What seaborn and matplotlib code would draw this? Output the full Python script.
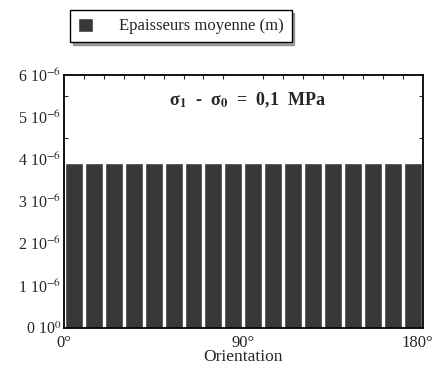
import numpy as np
import pandas as pd
import matplotlib
matplotlib.use("Agg")
import matplotlib.pyplot as plt
import seaborn as sns

# data: mean thickness per 10 degree orientation class
orientations = [5, 15, 25, 35, 45, 55, 65, 75, 85, 95, 105, 115, 125, 135, 145, 155, 165, 175]
thickness = [3.9e-6] * 18
ytick_values = [0, 1e-6, 2e-6, 3e-6, 4e-6, 5e-6, 6e-6]
ytick_labels = ["0 10$^{0}$", "1 10$^{-6}$", "2 10$^{-6}$", "3 10$^{-6}$",
                "4 10$^{-6}$", "5 10$^{-6}$", "6 10$^{-6}$"]
xtick_labels = ["0°", "90°", "180°"]

sns.set_style("white")
plt.rcParams['font.family'] = ['Liberation Serif', 'DejaVu Serif']
plt.rcParams['mathtext.fontset'] = 'stix'

df = pd.DataFrame({"Orientation": orientations, "Epaisseur": thickness})

fig = plt.figure(figsize=(4.37, 3.73), dpi=100)
ax = fig.add_axes([0.146, 0.121, 0.822, 0.678])

sns.barplot(data=df, x="Orientation", y="Epaisseur", color="#383838",
            width=0.9, saturation=1, ax=ax, label="Epaisseurs moyenne (m)")

ax.set_xlim(-0.5, 17.5)
ax.set_ylim(0, 6e-6)
# 180° label pulled slightly inward so it stays on the canvas (ticks are hidden)
ax.set_xticks([-0.5, 8.5, 17.2])
ax.set_xticklabels(xtick_labels, fontsize=12)
ax.set_yticks(ytick_values)
ax.set_yticklabels(ytick_labels, fontsize=11.5)
ax.set_xlabel("Orientation", fontsize=12.5, labelpad=-1)
ax.set_ylabel("")

for s in ax.spines.values():
    s.set_color("black")
    s.set_linewidth(1.3)

ax.set_xticks(np.arange(0.5, 17, 1), minor=True)
ax.set_yticks(np.arange(0, 6e-6, 0.5e-6), minor=True)
ax.tick_params(which="minor", direction="in", length=3, top=True, right=True,
               bottom=False, left=True, width=0.8)
ax.tick_params(axis="y", which="major", length=0, pad=2)
ax.tick_params(axis="x", which="major", length=0, pad=5)

ax.text(0.51, 0.90, "σ$_\\mathbf{1}$  -  σ$_\\mathbf{0}$  =  0,1  MPa", transform=ax.transAxes,
        ha="center", va="center", fontsize=13, fontweight="bold")

if ax.get_legend():
    ax.get_legend().remove()
handles, labels = ax.get_legend_handles_labels()
fig.legend(handles, labels, loc="center", bbox_to_anchor=(0.414, 0.93),
           fancybox=False, shadow=True, edgecolor="black", fontsize=12,
           handlelength=0.9, handleheight=0.9, handletextpad=1.6,
           borderpad=0.45, borderaxespad=0, framealpha=1)

fig.savefig("out.png", dpi=100)
